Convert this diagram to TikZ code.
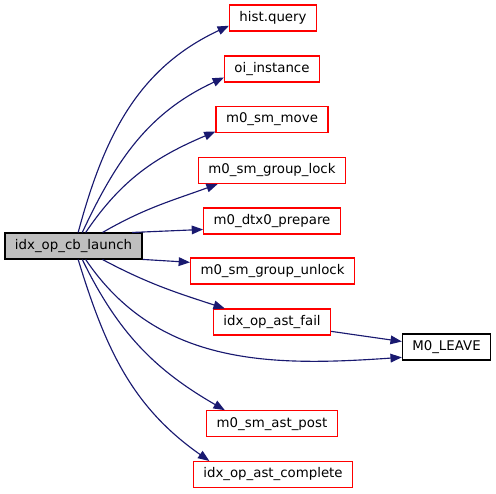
\documentclass[tikz,border=0pt]{standalone}
\usepackage{fontspec}
\setmainfont{DejaVu Sans}
\usepackage{xcolor}
\usepackage{tikz}
\usetikzlibrary{arrows.meta, positioning}
\definecolor{edgeblue}{HTML}{191970}
\definecolor{boxgray}{HTML}{BFBFBF}
\tikzstyle{fn}=[draw=red,line width=0.8pt,minimum height=19.5pt,inner xsep=7.5pt,inner ysep=0pt,font=\fontsize{10}{12}\selectfont]
\tikzstyle{rootfn}=[fn,draw=black,fill=boxgray]
\tikzstyle{leaffn}=[fn,draw=black]
\tikzstyle{call}=[-{Triangle[length=8.5pt,width=6.5pt]},line width=0.85pt,color=edgeblue]

\begin{document}
\begin{tikzpicture}[x=0.75pt,y=0.75pt]
  \useasboundingbox (0,0) rectangle (496,493);
  \node[rootfn] (main) at (73.5,247) {idx\_op\_cb\_launch};
  \node[fn] (hist) at (273,475) {hist.query};
  \node[fn] (oi) at (272,424) {oi\_instance};
  \node[fn] (move) at (272,373.5) {m0\_sm\_move};
  \node[fn] (lock) at (272,322.5) {m0\_sm\_group\_lock};
  \node[fn] (prep) at (272,272) {m0\_dtx0\_prepare};
  \node[fn] (unlock) at (272.5,222) {m0\_sm\_group\_unlock};
  \node[fn] (fail) at (272,171) {idx\_op\_ast\_fail};
  \node[leaffn] (leave) at (446.5,146) {M0\_LEAVE};
  \node[fn] (post) at (272,69.3) {m0\_sm\_ast\_post};
  \node[fn] (complete) at (273,18.5) {idx\_op\_ast\_complete};
  % calls out of the root
  \draw[call] (main.71) to[out=75,in=205] (hist.190);
  \draw[call] (main.57) to[out=65,in=205] (oi.190);
  \draw[call] (main.48) to[out=56,in=203] (move.192);
  \draw[call] (main.25) to[out=30,in=200] (lock.194);
  \draw[call] (main.13) -- (prep.187);
  \draw[call] (main.-11) -- (unlock.174);
  \draw[call] (main.-25) to[out=-28,in=162] (fail.164);
  \draw[call] (main.-48) to[out=-56,in=184] (leave.193);
  \draw[call] (main.-57) to[out=-64,in=150] (post.164);
  \draw[call] (main.-71) to[out=-73,in=145] (complete.168);
  \draw[call] (fail.351) -- (leave.173);
\end{tikzpicture}
\end{document}
